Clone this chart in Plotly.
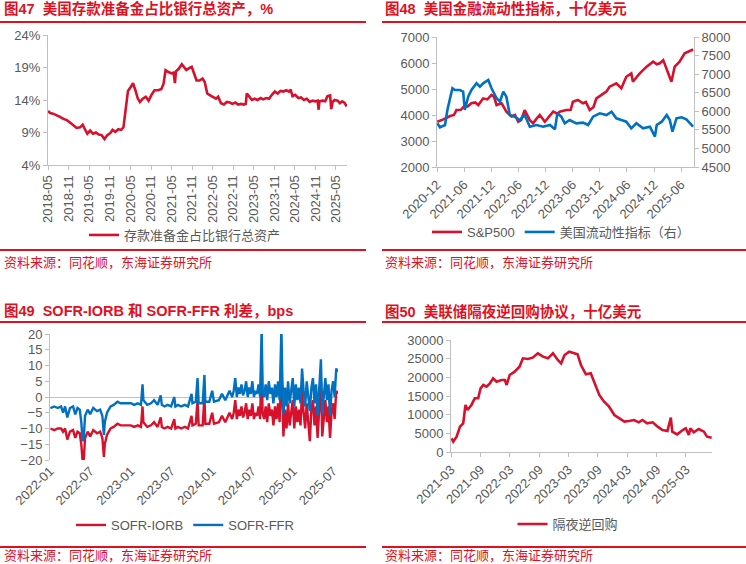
import plotly.graph_objects as go

W, H = 746, 564
RED = "#D7102B"
TITLE_RED = "#E0101F"
BLUE = "#0070C0"
TXT = "#595959"
AXIS = "#BFBFBF"
FONT = "Arial, 'Liberation Sans', 'Noto Sans CJK SC', sans-serif"

# ---- 图47 存款准备金占比银行总资产 (%) ----
p1_dates = [
    "2018-05-01", "2018-05-20", "2018-06-15", "2018-07-15", "2018-08-15", "2018-09-15",
    "2018-10-15", "2018-11-15", "2018-12-15", "2019-01-10", "2019-02-10", "2019-03-05",
    "2019-03-25", "2019-04-15", "2019-05-10", "2019-06-05", "2019-07-01", "2019-07-25",
    "2019-08-20", "2019-09-15", "2019-10-10", "2019-11-05", "2019-11-25", "2019-12-20",
    "2020-01-15", "2020-02-10", "2020-03-01", "2020-03-20", "2020-04-10", "2020-05-05",
    "2020-05-25", "2020-06-15", "2020-07-05", "2020-07-25", "2020-08-20", "2020-09-15",
    "2020-10-10", "2020-11-05", "2020-12-01", "2021-01-05", "2021-02-01", "2021-02-20",
    "2021-03-10", "2021-04-05", "2021-05-01", "2021-05-20", "2021-06-01", "2021-06-10",
    "2021-07-05", "2021-08-01", "2021-08-20", "2021-09-10", "2021-10-05", "2021-10-28",
    "2021-11-20", "2021-12-10", "2022-01-05", "2022-02-01", "2022-02-20", "2022-03-15",
    "2022-04-10", "2022-05-05", "2022-06-01", "2022-06-20", "2022-07-15", "2022-08-10",
    "2022-09-05", "2022-10-01", "2022-10-25", "2022-11-20", "2022-12-15", "2023-01-10",
    "2023-02-05", "2023-02-20", "2023-03-01", "2023-03-20", "2023-04-15", "2023-05-10",
    "2023-06-05", "2023-07-01", "2023-07-25", "2023-08-20", "2023-09-15", "2023-10-10",
    "2023-11-05", "2023-12-01", "2023-12-25", "2024-01-20", "2024-02-15", "2024-03-10",
    "2024-03-25", "2024-04-10", "2024-05-05", "2024-06-01", "2024-06-25", "2024-07-20",
    "2024-08-15", "2024-09-10", "2024-10-05", "2024-10-30", "2024-11-20", "2024-11-28",
    "2024-12-05", "2025-01-01", "2025-01-25", "2025-02-15", "2025-03-10", "2025-03-20",
    "2025-04-01", "2025-04-20", "2025-05-15", "2025-06-05", "2025-06-25", "2025-07-15",
    "2025-08-05",
]
p1_reserve_ratio = [
    12.3, 12.0, 11.9, 11.7, 11.4, 11.1,
    10.9, 10.5, 10.0, 9.7, 9.8, 10.2,
    9.5, 8.8, 9.3, 8.8, 9.0, 8.7,
    8.6, 8.0, 8.6, 8.9, 9.4, 9.1,
    9.5, 9.4, 9.8, 12.5, 15.4, 16.0,
    16.6, 15.5, 14.3, 13.7, 14.2, 14.5,
    13.9, 14.8, 15.5, 15.5, 15.7, 16.5,
    18.6, 18.3, 18.1, 18.2, 16.6, 18.4,
    18.8, 19.5, 19.0, 18.6, 18.9, 19.1,
    18.0, 17.0, 17.0, 17.3, 16.8, 15.0,
    14.7, 14.4, 14.2, 14.5, 13.5, 13.3,
    13.7, 13.6, 13.4, 13.6, 13.3, 13.4,
    13.3, 13.4, 15.0, 14.6, 14.0, 14.2,
    14.0, 14.3, 14.1, 14.3, 14.2, 14.8,
    15.3, 15.0, 15.4, 15.3, 15.5, 15.3,
    15.6, 14.6, 14.8, 14.3, 14.4, 14.0,
    14.2, 13.7, 13.9, 13.8, 13.9, 12.5,
    13.8, 13.9, 13.8, 14.6, 14.7, 12.6,
    13.7, 14.0, 13.9, 13.5, 13.8, 13.6,
    13.0,
]

# ---- 图48 S&P500 与 美国流动性指标 ----
p2_spx_dates = [
    "2020-12-03", "2021-01-13", "2021-02-27", "2021-03-25", "2021-04-11", "2021-05-10",
    "2021-05-30", "2021-06-25", "2021-07-20", "2021-08-15", "2021-09-05", "2021-10-08",
    "2021-11-05", "2021-12-03", "2021-12-20", "2022-01-06", "2022-01-25", "2022-02-09",
    "2022-03-13", "2022-04-16", "2022-05-10", "2022-06-01", "2022-06-20", "2022-07-14",
    "2022-08-18", "2022-09-09", "2022-10-01", "2022-10-24", "2022-11-27", "2022-12-20",
    "2023-01-22", "2023-02-20", "2023-03-07", "2023-04-21", "2023-05-20", "2023-06-04",
    "2023-07-07", "2023-08-11", "2023-08-30", "2023-09-25", "2023-10-20", "2023-11-09",
    "2023-12-24", "2024-01-15", "2024-02-06", "2024-03-22", "2024-04-25", "2024-05-28",
    "2024-07-01", "2024-07-12", "2024-08-05", "2024-08-27", "2024-10-12", "2024-11-25",
    "2024-12-20", "2025-01-09", "2025-02-01", "2025-03-04", "2025-03-28", "2025-04-19",
    "2025-05-22", "2025-06-25", "2025-07-25", "2025-08-21",
]
p2_spx = [
    3740, 3830, 3960, 4000, 4190, 4200,
    4320, 4330, 4450, 4480, 4380, 4640,
    4600, 4770, 4700, 4380, 4420, 4450,
    4130, 3940, 4000, 3740, 3800, 4190,
    3800, 3680, 3850, 4000, 3740, 3900,
    4130, 4050, 4130, 4190, 4200, 4510,
    4580, 4450, 4500, 4190, 4300, 4640,
    4830, 4900, 5090, 5220, 5030, 5470,
    5600, 5280, 5450, 5600, 5860, 6050,
    5950, 5990, 6110, 5600, 5280, 5860,
    6050, 6370, 6450, 6520,
]
p2_liq_dates = [
    "2020-12-03", "2020-12-21", "2021-01-24", "2021-02-09", "2021-02-27", "2021-03-15",
    "2021-03-31", "2021-05-03", "2021-05-26", "2021-06-06", "2021-06-29", "2021-07-21",
    "2021-08-24", "2021-09-16", "2021-10-08", "2021-11-11", "2021-12-03", "2022-01-06",
    "2022-01-29", "2022-02-20", "2022-03-13", "2022-04-05", "2022-05-08", "2022-06-11",
    "2022-07-14", "2022-08-18", "2022-10-02", "2022-11-16", "2022-12-31", "2023-02-03",
    "2023-02-19", "2023-03-18", "2023-04-10", "2023-05-13", "2023-06-27", "2023-08-11",
    "2023-09-14", "2023-10-18", "2023-12-02", "2024-01-16", "2024-02-19", "2024-03-22",
    "2024-04-25", "2024-05-28", "2024-07-01", "2024-08-04", "2024-09-18", "2024-11-03",
    "2024-12-07", "2024-12-19", "2025-01-22", "2025-02-24", "2025-03-17", "2025-04-04",
    "2025-05-01", "2025-06-04", "2025-07-07", "2025-08-21",
]
p2_liquidity = [
    5676, 5568, 5630, 6035, 6350, 6620,
    6573, 6573, 6530, 6035, 6394, 6573,
    6753, 6663, 6753, 6842, 6620, 6350,
    6260, 6530, 6394, 5900, 5855, 5765,
    5900, 5586, 5630, 5586, 5630, 5514,
    5945, 5855, 5676, 5765, 5676, 5694,
    5630, 5855, 5945, 5900, 5990, 5810,
    5765, 5720, 5540, 5676, 5540, 5586,
    5317, 5630, 5720, 5900, 5765, 5450,
    5810, 5837, 5784, 5586,
]

# ---- 图49 SOFR-IORB 与 SOFR-FFR (bps) ----
p3_dates = [
    "2022-01-03", "2022-01-20", "2022-02-05", "2022-02-20", "2022-03-01", "2022-03-10",
    "2022-03-20", "2022-04-01", "2022-04-15", "2022-04-25", "2022-05-05", "2022-05-15",
    "2022-05-22", "2022-05-28", "2022-06-02", "2022-06-08", "2022-06-20", "2022-07-01",
    "2022-07-15", "2022-08-01", "2022-08-15", "2022-08-25", "2022-09-01", "2022-09-05",
    "2022-09-15", "2022-10-01", "2022-10-15", "2022-11-01", "2022-11-15", "2022-12-01",
    "2022-12-15", "2023-01-01", "2023-01-15", "2023-02-01", "2023-02-15", "2023-02-22",
    "2023-02-26", "2023-03-15", "2023-04-01", "2023-04-15", "2023-05-01", "2023-05-15",
    "2023-05-20", "2023-06-01", "2023-06-15", "2023-07-01", "2023-07-15", "2023-07-20",
    "2023-08-01", "2023-08-15", "2023-09-01", "2023-09-15", "2023-10-01", "2023-10-05",
    "2023-10-20", "2023-10-28", "2023-11-02", "2023-11-20", "2023-11-28", "2023-12-02",
    "2023-12-20", "2024-01-02", "2024-01-10", "2024-02-01", "2024-02-15", "2024-03-01",
    "2024-03-20",
    "2024-04-01", "2024-04-08", "2024-04-15", "2024-04-22", "2024-04-29",
    "2024-05-06", "2024-05-13", "2024-05-20", "2024-05-27",
    "2024-06-03", "2024-06-10", "2024-06-17", "2024-06-24",
    "2024-07-01", "2024-07-08", "2024-07-15", "2024-07-22", "2024-07-29",
    "2024-08-05", "2024-08-12", "2024-08-16", "2024-08-23", "2024-08-30",
    "2024-09-06", "2024-09-13", "2024-09-20", "2024-09-27",
    "2024-10-04", "2024-10-11", "2024-10-18", "2024-10-25",
    "2024-11-01", "2024-11-09", "2024-11-13", "2024-11-18", "2024-11-25",
    "2024-12-02", "2024-12-09", "2024-12-16", "2024-12-23", "2024-12-30",
    "2025-01-06", "2025-01-13", "2025-01-20", "2025-01-27",
    "2025-02-03", "2025-02-10", "2025-02-17", "2025-02-24",
    "2025-03-03", "2025-03-10", "2025-03-17", "2025-03-24", "2025-03-31",
    "2025-04-07", "2025-04-14", "2025-04-21", "2025-04-28",
    "2025-05-06", "2025-05-12", "2025-05-19", "2025-05-26",
    "2025-06-02", "2025-06-09", "2025-06-16", "2025-06-23", "2025-06-30",
    "2025-07-07", "2025-07-14", "2025-07-21",
]
p3_sofr_ffr = [
    -3.5, -3, -3.5, -3, -5, -3,
    -6.5, -3.5, -3, -5.5, -3.5, -4,
    -8, -14, -13, -6, -4, -5.5,
    -3.5, -4.5, -4, -6, -12, -8,
    -5, -3, -2.5, -1.5, -2, -2,
    -1.8, -2, -2.5, -2, -2.5, 4,
    -1, -2.5, -2, -1, -2.5, 0.5,
    -2.5, -3, -2.5, -3, 0, -3,
    -2.5, -3, -2.5, -3, 1, -2,
    -1.5, 6, -2, -2, 7, -1.5,
    -1.5, 2, -1.5, -1, 1, -1,
    2,
    0, 2, 6, 0, 3,
    1, 4, 0.5, 2,
    5, 0, 3, 1,
    5, 0, 2, 1, 4,
    0, 22, 2, 0, 4,
    -1, 5, 1, 3,
    -2, 4, 0, 5,
    -1, 22, 6, -5.5, 3,
    -3, 5, -2, 2, 6,
    -3, 4, -1, 3,
    -2, 9, 2, -3,
    5, -1, -4.5, 3, 6,
    -2, 4, -6, 2,
    12, -5.5, 1, 6,
    -1, 4, -6, 2, 5,
    0, 9, 8,
]
p3_sofr_iorb = [
    -10, -10.5, -10, -10, -11, -10,
    -13.5, -11, -10.5, -13, -11, -11.5,
    -15, -20.5, -20, -13, -11, -12.5,
    -10.5, -11.5, -11, -13, -19, -15,
    -12, -10, -9.5, -8.5, -9, -9,
    -8.8, -9, -9.5, -9, -9.5, -3,
    -8, -9.5, -9, -8, -9.5, -6.5,
    -9.5, -10, -9.5, -10, -7, -10,
    -9.5, -10, -9.5, -10, -6, -9,
    -8.5, -1, -9, -9, 0, -8.5,
    -8.5, -5, -8.5, -8, -6, -8,
    -5,
    -7, -5, -1, -7, -4,
    -6, -3, -6.5, -5,
    -2, -7, -4, -6,
    -2, -7, -5, -6, -3,
    -7, 15, -5, -7, -3,
    -8, -2, -6, -4,
    -9, -3, -7, -2,
    -8, 15, -1, -12.5, -4,
    -10, -2, -9, -5, -1,
    -10, -3, -8, -4,
    -9, 2, -5, -10,
    -2, -8, -14, -4, -1,
    -9, -3, -13, -5,
    5, -12.5, -6, -1,
    -8, -3, -13, -5, -2,
    -7, 2, 1,
]

# ---- 图50 隔夜逆回购 (十亿美元) ----
p4_dates = [
    "2021-03-05", "2021-03-15", "2021-04-05", "2021-04-26", "2021-05-16", "2021-05-30",
    "2021-06-12", "2021-07-06", "2021-07-27", "2021-08-17", "2021-09-01", "2021-09-18",
    "2021-10-08", "2021-10-29", "2021-11-18", "2021-12-09", "2022-01-09", "2022-01-30",
    "2022-02-10", "2022-03-01", "2022-04-01", "2022-05-01", "2022-05-22", "2022-06-22",
    "2022-07-22", "2022-08-23", "2022-09-24", "2022-10-25", "2022-11-25", "2022-12-25",
    "2023-01-15", "2023-02-05", "2023-03-06", "2023-04-06", "2023-04-27", "2023-05-18",
    "2023-06-18", "2023-07-18", "2023-08-09", "2023-09-09", "2023-10-09", "2023-11-09",
    "2023-12-12", "2024-01-12", "2024-02-12", "2024-03-12", "2024-04-12", "2024-05-12",
    "2024-06-03", "2024-07-03", "2024-08-06", "2024-09-06", "2024-10-06", "2024-11-06",
    "2024-11-27", "2024-12-06", "2025-01-06", "2025-02-09", "2025-02-28", "2025-03-19",
    "2025-03-28", "2025-04-19", "2025-05-19", "2025-06-21", "2025-07-10", "2025-08-08",
]
p4_on_rrp = [
    3660, 2770, 4100, 6790, 7680, 12600,
    11250, 12600, 14380, 14380, 17060, 17950,
    17500, 18400, 19740, 18840, 19290, 19290,
    17950, 20630, 21520, 22860, 25090, 24900,
    25270, 26430, 25540, 25090, 26430, 24650,
    23750, 25990, 26880, 26430, 26160, 23300,
    20800, 21070, 18840, 15270, 13480, 12140,
    9910, 9020, 8130, 8300, 8570, 7950,
    8570, 7680, 7950, 6790, 5890, 5630,
    9200, 5450, 4730, 5890, 6340, 4550,
    6340, 5270, 6160, 5450, 4100, 3840,
]


def px(x):
    return x / W


def py(y):
    return 1 - y / H


tick_font = dict(family=FONT, size=13, color=TXT)


def date_axis(x0, x1, anchor, rng, tick0, angle, line=True):
    return dict(domain=[px(x0), px(x1)], anchor=anchor, type="date", range=rng,
                tick0=tick0, dtick="M6", tickformat="%Y-%m", tickangle=angle,
                showline=line, linecolor=AXIS, linewidth=1,
                ticks="outside" if line else "", ticklen=4, tickcolor=AXIS,
                showgrid=False, zeroline=False, tickfont=tick_font, fixedrange=True,
                automargin=False)


def value_axis(y_top, y_bot, anchor, rng, dtick, **kw):
    d = dict(domain=[py(y_bot), py(y_top)], anchor=anchor, range=rng, dtick=dtick,
             tick0=rng[0], showline=True, linecolor=AXIS, linewidth=1, ticks="outside",
             ticklen=4, tickcolor=AXIS, showgrid=False, zeroline=False,
             tickfont=tick_font, tickformat="d", fixedrange=True, automargin=False)
    d.update(kw)
    return d


fig = go.Figure()
fig.add_trace(go.Scatter(x=p1_dates, y=p1_reserve_ratio, mode="lines",
                         line=dict(color=RED, width=2.6), name="存款准备金占比银行总资产",
                         xaxis="x", yaxis="y", legend="legend"))
fig.add_trace(go.Scatter(x=p2_spx_dates, y=p2_spx, mode="lines",
                         line=dict(color=RED, width=2.6), name="S&P500",
                         xaxis="x2", yaxis="y2", legend="legend2"))
fig.add_trace(go.Scatter(x=p2_liq_dates, y=p2_liquidity, mode="lines",
                         line=dict(color=BLUE, width=2.6), name="美国流动性指标（右）",
                         xaxis="x2", yaxis="y3", legend="legend2"))
fig.add_trace(go.Scatter(x=p3_dates, y=p3_sofr_iorb, mode="lines",
                         line=dict(color=RED, width=2.4), name="SOFR-IORB",
                         xaxis="x3", yaxis="y4", legend="legend3"))
fig.add_trace(go.Scatter(x=p3_dates, y=p3_sofr_ffr, mode="lines",
                         line=dict(color=BLUE, width=2.4), name="SOFR-FFR",
                         xaxis="x3", yaxis="y4", legend="legend3"))
fig.add_trace(go.Scatter(x=p4_dates, y=p4_on_rrp, mode="lines",
                         line=dict(color=RED, width=2.6), name="隔夜逆回购",
                         xaxis="x4", yaxis="y5", legend="legend4"))

legend_base = dict(orientation="h", xanchor="center", yanchor="middle",
                   bgcolor="rgba(0,0,0,0)", font=dict(family=FONT, size=13, color=TXT),
                   itemwidth=30, tracegroupgap=0)

fig.update_layout(
    width=W, height=H, margin=dict(l=0, r=0, t=0, b=0, autoexpand=False),
    paper_bgcolor="white", plot_bgcolor="white",
    font=dict(family=FONT, size=13, color=TXT),
    showlegend=True,
    xaxis=date_axis(48, 347, "y", ["2018-05-01", "2025-08-07"], "2018-05-01", -90),
    yaxis=value_axis(35, 165, "x", [4, 24], 5, ticksuffix="%"),
    xaxis2=date_axis(437, 694, "y2", ["2020-12-01", "2025-08-27"], "2020-12-01", -45),
    yaxis2=value_axis(37, 167, "x2", [2000, 7000], 1000),
    yaxis3=value_axis(37, 167, "x2", [4500, 8000], 500, overlaying="y2", side="right"),
    xaxis3=date_axis(50, 338, "y4", ["2022-01-01", "2025-07-22"], "2022-01-01", -45, line=False),
    yaxis4=value_axis(334, 460, "x3", [-20, 20], 5, zeroline=True, zerolinecolor=AXIS,
                      zerolinewidth=1),
    xaxis4=date_axis(451, 712, "y5", ["2021-03-01", "2025-08-10"], "2021-03-01", -45),
    yaxis5=value_axis(340, 452, "x4", [0, 30000], 5000),
    legend=dict(legend_base, x=px(185), y=py(235)),
    legend2=dict(legend_base, x=px(561), y=py(232)),
    legend3=dict(legend_base, x=px(185), y=py(525)),
    legend4=dict(legend_base, x=px(568), y=py(524)),
)

titles = [
    (2, 9, "图47  美国存款准备金占比银行总资产，%"),
    (383, 9, "图48  美国金融流动性指标，十亿美元"),
    (2, 310, "图49  SOFR-IORB 和 SOFR-FFR 利差，bps"),
    (383, 311, "图50  美联储隔夜逆回购协议，十亿美元"),
]
for x, y, t in titles:
    fig.add_annotation(x=px(x), y=py(y), xref="paper", yref="paper", text="<b>" + t + "</b>",
                       showarrow=False, xanchor="left", yanchor="middle",
                       font=dict(family=FONT, size=14.5, color=TITLE_RED))

sources = [(2, 262), (383, 262), (2, 555), (383, 555)]
for x, y in sources:
    fig.add_annotation(x=px(x), y=py(y), xref="paper", yref="paper",
                       text="资料来源：同花顺，东海证券研究所", showarrow=False,
                       xanchor="left", yanchor="middle",
                       font=dict(family=FONT, size=13, color=TITLE_RED))

rules = [(0, 366, 22), (382, 746, 22), (0, 366, 250), (382, 746, 250),
         (0, 366, 322), (382, 746, 322), (0, 366, 547), (382, 746, 547)]
for x0, x1, y in rules:
    fig.add_shape(type="line", xref="paper", yref="paper", x0=px(x0), x1=px(x1),
                  y0=py(y), y1=py(y), line=dict(color=TITLE_RED, width=2))

fig.write_html("out.html", config={"displayModeBar": False},
               post_script="document.body.style.margin='0';")
